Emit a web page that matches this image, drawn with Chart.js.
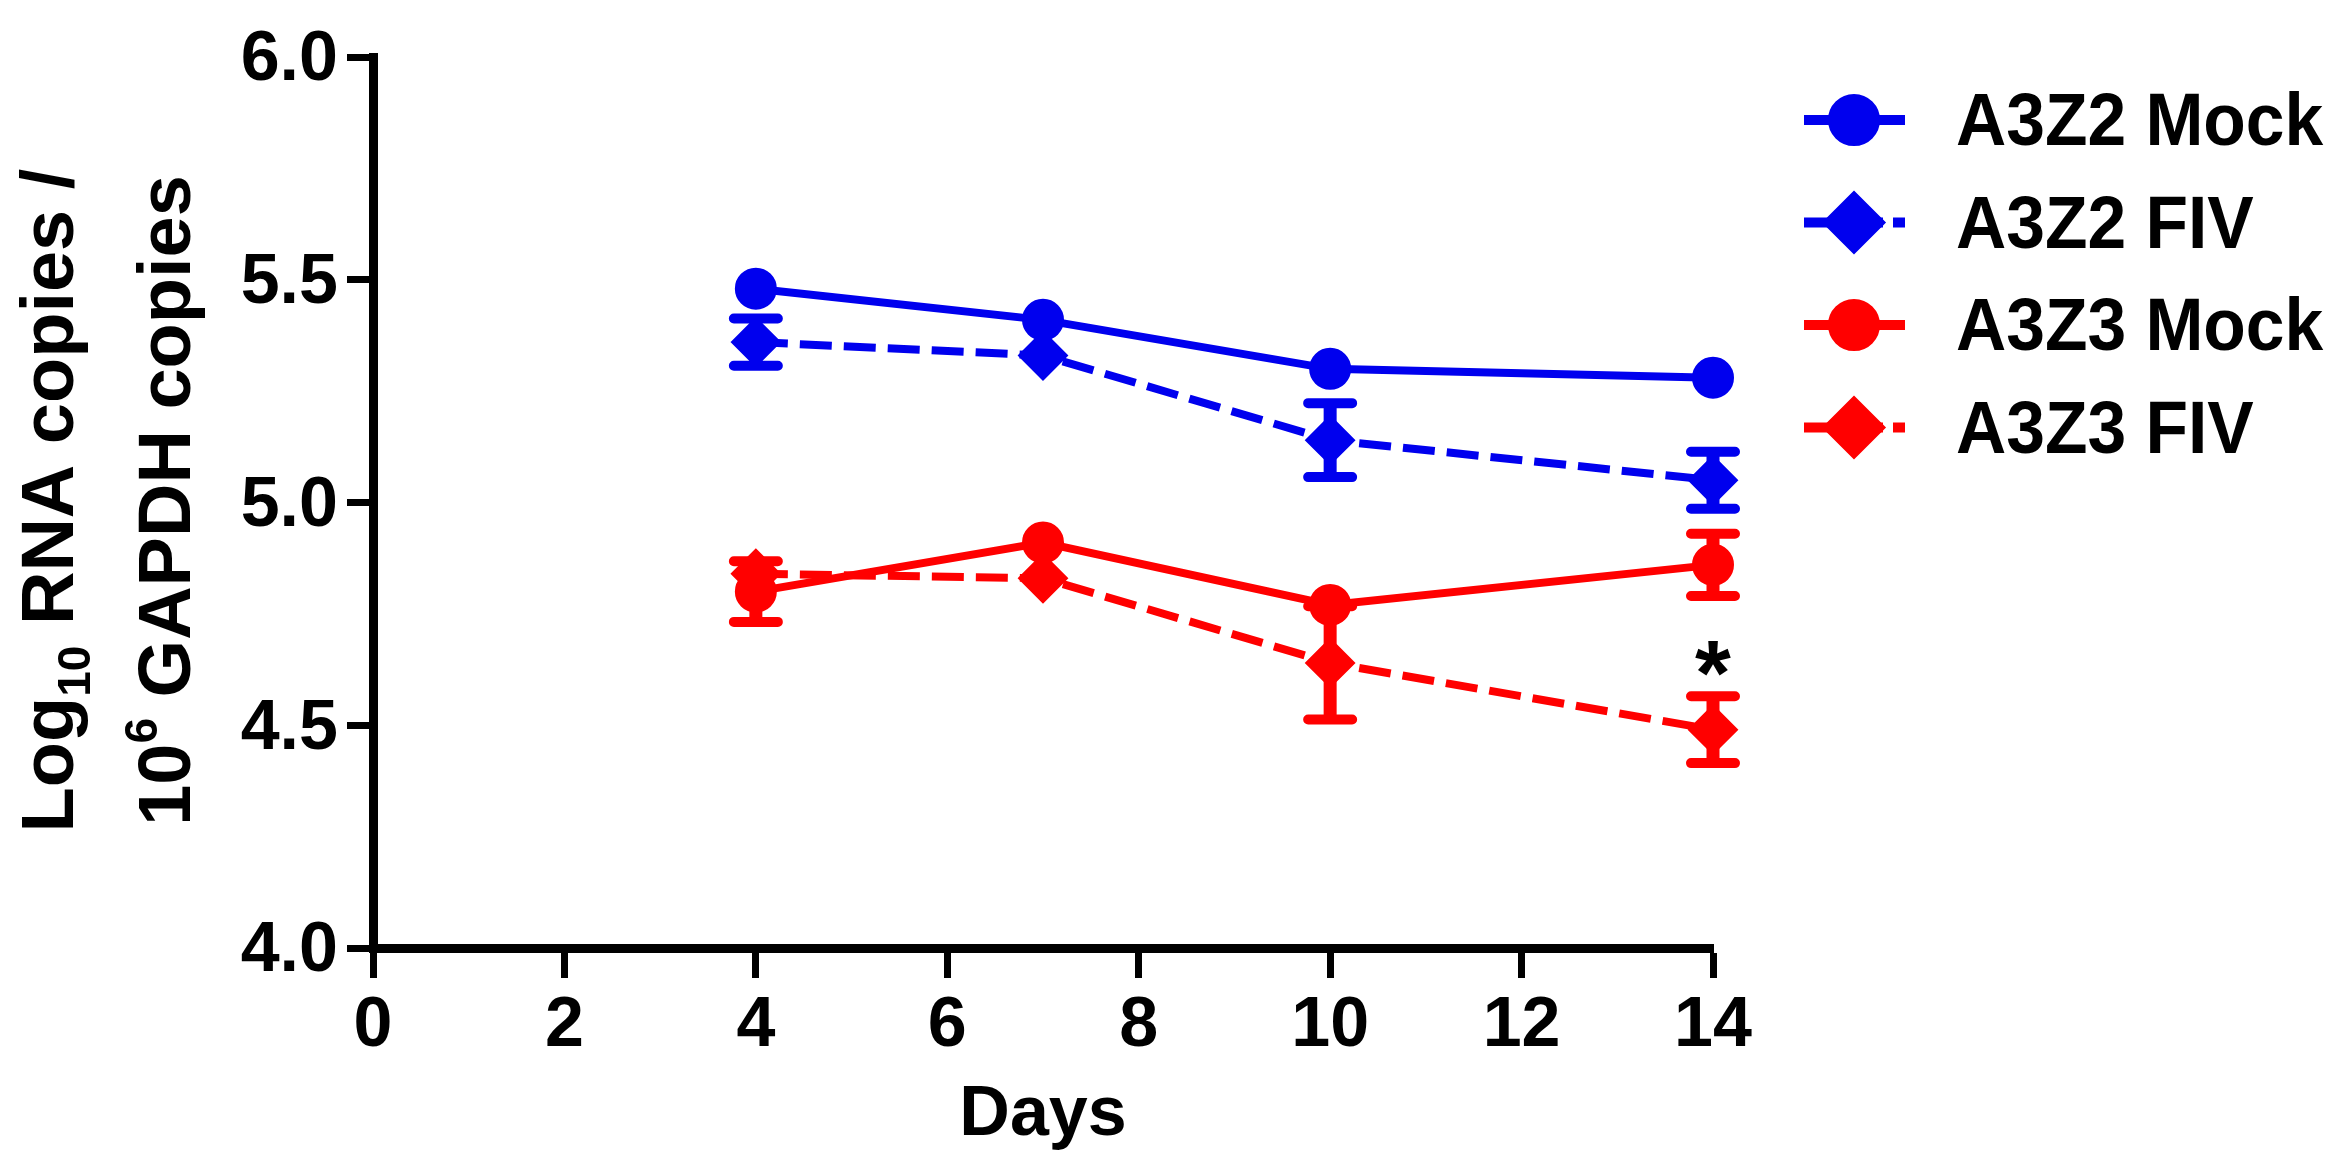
<!DOCTYPE html>
<html>
<head>
<meta charset="utf-8">
<script src="https://cdn.jsdelivr.net/npm/chart.js@4.4.1/dist/chart.umd.min.js"></script>
<style>
  html, body { margin: 0; padding: 0; background: #fff; }
  #chart { display: block; }
</style>
</head>
<body>
<canvas id="chart" width="2350" height="1174"></canvas>
<script>
// ---- data ----
const days = [4, 7, 10, 14];

// SEM of 0 = error bar hidden behind the symbol in the figure
const a3z2Mock    = [5.48, 5.41, 5.30, 5.28];
const a3z2MockSem = [0, 0, 0, 0];
const a3z2Fiv     = [5.36, 5.33, 5.14, 5.05];
const a3z2FivSem  = [0.053, 0, 0.083, 0.064];
const a3z3Mock    = [4.80, 4.91, 4.77, 4.86];
const a3z3MockSem = [0.068, 0, 0, 0.07];
const a3z3Fiv     = [4.84, 4.83, 4.64, 4.49];
const a3z3FivSem  = [0, 0, 0.127, 0.075];

const xTickValues = [0, 2, 4, 6, 8, 10, 12, 14];
const yTickValues = [4.0, 4.5, 5.0, 5.5, 6.0];
const yTickLabels = ["4.0", "4.5", "5.0", "5.5", "6.0"];

// significance mark: A3Z3 FIV at day 14
const starDay = 14;
const starSeries = 3;

const FONT = '"Liberation Sans", Arial, Helvetica, sans-serif';
const BLUE = "#0000EE";
const RED = "#FF0000";

const yTitleLines = [
  [{ t: "Log" }, { t: "10", sub: true }, { t: " RNA copies /" }],
  [{ t: "10" }, { t: "6", sup: true }, { t: " GAPDH copies" }]
];

function makeDataset(label, values, errs, color, dashed, style) {
  return {
    label: label,
    data: days.map((d, i) => ({ x: d, y: values[i] })),
    errors: errs,
    borderColor: color,
    backgroundColor: color,
    borderWidth: 8,
    borderDash: dashed ? [32, 12] : [],
    pointStyle: style,
    pointRadius: style === "circle" ? 20 : 24,
    pointHoverRadius: style === "circle" ? 20 : 24,
    pointBorderWidth: 2,
    pointBackgroundColor: color,
    pointBorderColor: color,
    tension: 0,
    fill: false,
    clip: false
  };
}

// error bars drawn under each series
const errorBars = {
  id: "errorBars",
  beforeDatasetDraw(chart, args) {
    const ds = chart.data.datasets[args.index];
    if (!ds.errors) return;
    const ctx = chart.ctx;
    const y = chart.scales.y;
    ctx.save();
    ctx.strokeStyle = ds.borderColor;
    args.meta.data.forEach((pt, j) => {
      const v = ds.data[j].y;
      const e = ds.errors[j];
      if (!e) return;
      const top = y.getPixelForValue(v + e);
      const bot = y.getPixelForValue(v - e);
      ctx.setLineDash([]);
      ctx.lineCap = "butt";
      ctx.lineWidth = 13;
      ctx.beginPath();
      ctx.moveTo(pt.x, top);
      ctx.lineTo(pt.x, bot);
      ctx.stroke();
      ctx.lineCap = "round";
      ctx.lineWidth = 10;
      ctx.beginPath();
      ctx.moveTo(pt.x - 22, top);
      ctx.lineTo(pt.x + 22, top);
      ctx.moveTo(pt.x - 22, bot);
      ctx.lineTo(pt.x + 22, bot);
      ctx.stroke();
    });
    ctx.restore();
  }
};

// rotated two-line y title with sub/superscripts
const yTitle = {
  id: "yTitle",
  afterDraw(chart) {
    const ctx = chart.ctx;
    const area = chart.chartArea;
    const cy = (area.top + area.bottom) / 2 - 2;
    const baselines = [73, 190];
    const fontFor = s => "bold " + (s.sub || s.sup ? 46 : 74) + "px " + FONT;
    ctx.save();
    ctx.fillStyle = "#000";
    ctx.textBaseline = "alphabetic";
    ctx.textAlign = "left";
    yTitleLines.forEach((segs, i) => {
      const widths = segs.map(s => { ctx.font = fontFor(s); return ctx.measureText(s.t).width; });
      const total = widths.reduce((a, b) => a + b, 0);
      ctx.save();
      ctx.translate(baselines[i], cy);
      ctx.rotate(-Math.PI / 2);
      let x = -total / 2;
      segs.forEach((s, j) => {
        ctx.font = fontFor(s);
        const dy = s.sub ? 17 : (s.sup ? -33 : 0);
        ctx.fillText(s.t, x, dy);
        x += widths[j];
      });
      ctx.restore();
    });
    ctx.restore();
  }
};

// legend with line + symbol, and the asterisk
const sideLegend = {
  id: "sideLegend",
  afterDraw(chart) {
    const ctx = chart.ctx;
    ctx.save();
    chart.data.datasets.forEach((ds, i) => {
      const cy = 120 + i * 102.5;
      ctx.strokeStyle = ds.borderColor;
      ctx.fillStyle = ds.borderColor;
      ctx.lineWidth = 10;
      ctx.lineCap = "butt";
      ctx.setLineDash(ds.borderDash.length ? [79, 10, 12, 100] : []);
      ctx.beginPath();
      ctx.moveTo(1804, cy);
      ctx.lineTo(1905, cy);
      ctx.stroke();
      ctx.setLineDash([]);
      Chart.helpers.drawPoint(ctx, {
        pointStyle: ds.pointStyle,
        radius: ds.pointStyle === "circle" ? 21 : 25,
        borderWidth: 2,
        rotation: 0
      }, 1854, cy);
      ctx.fillStyle = "#000";
      ctx.font = "bold 74px " + FONT;
      ctx.textBaseline = "alphabetic";
      ctx.textAlign = "left";
      ctx.save();
      ctx.translate(1956, cy + 25);
      ctx.scale(0.94, 1);
      ctx.fillText(ds.label, 0, 0);
      ctx.restore();
    });

    const ds = chart.data.datasets[starSeries];
    const idx = days.indexOf(starDay);
    const sx = chart.scales.x.getPixelForValue(starDay);
    const sy = chart.scales.y.getPixelForValue(ds.data[idx].y + ds.errors[idx]) - 38;
    ctx.font = "bold 92px " + FONT;
    ctx.textAlign = "center";
    const m = ctx.measureText("*");
    ctx.fillText("*", sx, sy + (m.actualBoundingBoxAscent - m.actualBoundingBoxDescent) / 2);
    ctx.restore();
  }
};

const tickFont = { family: FONT, size: 70, weight: "bold" };

new Chart(document.getElementById("chart"), {
  type: "line",
  data: {
    datasets: [
      makeDataset("A3Z2 Mock", a3z2Mock, a3z2MockSem, BLUE, false, "circle"),
      makeDataset("A3Z2 FIV", a3z2Fiv, a3z2FivSem, BLUE, true, "rectRot"),
      makeDataset("A3Z3 Mock", a3z3Mock, a3z3MockSem, RED, false, "circle"),
      makeDataset("A3Z3 FIV", a3z3Fiv, a3z3FivSem, RED, true, "rectRot")
    ]
  },
  options: {
    responsive: false,
    devicePixelRatio: 1,
    animation: false,
    events: [],
    layout: { padding: { top: 57, left: 0, right: 637, bottom: 0 } },
    plugins: {
      legend: { display: false },
      tooltip: { enabled: false }
    },
    scales: {
      x: {
        type: "linear",
        min: 0,
        max: 14,
        afterBuildTicks: s => { s.ticks = xTickValues.map(v => ({ value: v })); },
        afterFit: s => { s.height = 226; },
        ticks: { font: tickFont, color: "#000", padding: 7, maxRotation: 0, autoSkip: false,
                 callback: v => String(v) },
        grid: { drawOnChartArea: false, drawTicks: true, tickLength: 30, tickWidth: 7, tickColor: "#000", color: "#000" },
        border: { display: true, color: "#000", width: 9 },
        title: { display: true, text: "Days", color: "#000",
                 font: { family: FONT, size: 70, weight: "bold" }, padding: { top: 0, bottom: 16 } }
      },
      y: {
        type: "linear",
        min: 4,
        max: 6,
        afterBuildTicks: s => { s.ticks = yTickValues.map(v => ({ value: v })); },
        afterFit: s => { s.width = 373; },
        ticks: { font: tickFont, color: "#000", padding: 9, autoSkip: false, labelOffset: 4,
                 callback: (v, i) => yTickLabels[i] },
        grid: { drawOnChartArea: false, drawTicks: true, tickLength: 26, tickWidth: 7, tickColor: "#000", color: "#000" },
        border: { display: true, color: "#000", width: 9 }
      }
    }
  },
  plugins: [errorBars, yTitle, sideLegend]
});
</script>
</body>
</html>
